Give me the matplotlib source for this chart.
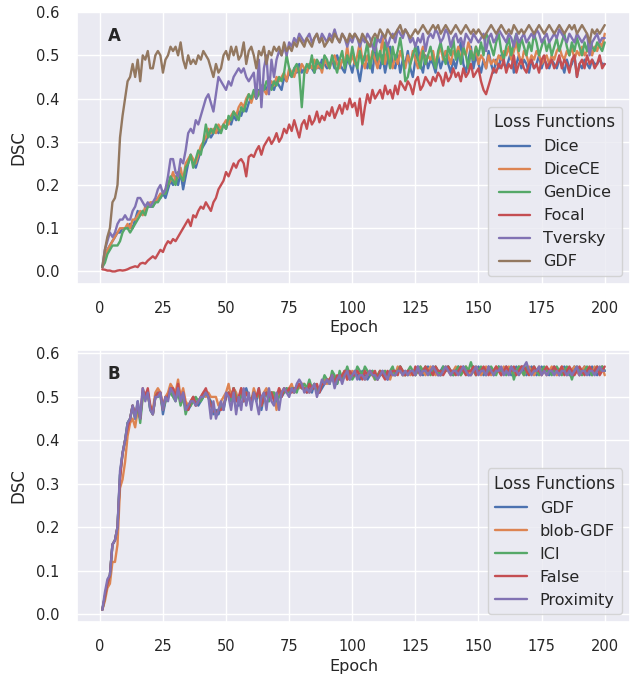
import numpy as np
import matplotlib
matplotlib.use("Agg")
import matplotlib.pyplot as plt
import seaborn as sns

# Validation DSC per epoch
EPOCHS = np.arange(1, 201)

# Panel A: loss functions
DICE = [
    0.01, 0.03, 0.05, 0.06, 0.07, 0.08, 0.09, 0.09, 0.10, 0.10,
    0.10, 0.11, 0.10, 0.12, 0.14, 0.13, 0.14, 0.14, 0.15, 0.15,
    0.15, 0.16, 0.17, 0.17, 0.18, 0.17, 0.19, 0.21, 0.20, 0.22,
    0.20, 0.23, 0.19, 0.22, 0.25, 0.27, 0.25, 0.24, 0.26, 0.28,
    0.29, 0.30, 0.32, 0.31, 0.32, 0.33, 0.32, 0.33, 0.34, 0.33,
    0.35, 0.34, 0.36, 0.35, 0.37, 0.36, 0.38, 0.37, 0.39, 0.40,
    0.41, 0.40, 0.42, 0.41, 0.43, 0.42, 0.44, 0.43, 0.42, 0.44,
    0.43, 0.42, 0.45, 0.44, 0.46, 0.45, 0.47, 0.46, 0.48, 0.46,
    0.47, 0.46, 0.48, 0.47, 0.46, 0.48, 0.47, 0.49, 0.48, 0.47,
    0.48, 0.49, 0.47, 0.50, 0.48, 0.47, 0.46, 0.49, 0.48, 0.46,
    0.49, 0.47, 0.44, 0.48, 0.50, 0.47, 0.49, 0.46, 0.51, 0.48,
    0.47, 0.50, 0.46, 0.49, 0.52, 0.48, 0.47, 0.50, 0.46, 0.49,
    0.48, 0.51, 0.47, 0.45, 0.49, 0.52, 0.48, 0.46, 0.50, 0.47,
    0.49, 0.48, 0.46, 0.50, 0.47, 0.49, 0.51, 0.48, 0.46, 0.49,
    0.47, 0.50, 0.53, 0.48, 0.46, 0.49, 0.52, 0.47, 0.50, 0.48,
    0.46, 0.49, 0.47, 0.51, 0.48, 0.46, 0.49, 0.47, 0.50, 0.48,
    0.47, 0.49, 0.51, 0.46, 0.48, 0.50, 0.47, 0.49, 0.48, 0.46,
    0.49, 0.47, 0.48, 0.50, 0.47, 0.49, 0.48, 0.47, 0.49, 0.48,
    0.47, 0.49, 0.48, 0.46, 0.49, 0.47, 0.48, 0.50, 0.45, 0.48,
    0.47, 0.49, 0.48, 0.47, 0.49, 0.48, 0.48, 0.49, 0.48, 0.48,
]
DICECE = [
    0.01, 0.03, 0.05, 0.06, 0.07, 0.08, 0.09, 0.10, 0.10, 0.10,
    0.11, 0.10, 0.12, 0.12, 0.13, 0.14, 0.13, 0.15, 0.15, 0.16,
    0.16, 0.16, 0.17, 0.18, 0.18, 0.19, 0.20, 0.21, 0.23, 0.21,
    0.22, 0.24, 0.21, 0.25, 0.26, 0.27, 0.26, 0.25, 0.27, 0.29,
    0.30, 0.31, 0.33, 0.32, 0.33, 0.32, 0.34, 0.33, 0.34, 0.35,
    0.34, 0.36, 0.37, 0.36, 0.38, 0.39, 0.38, 0.40, 0.41, 0.39,
    0.41, 0.42, 0.41, 0.43, 0.42, 0.41, 0.43, 0.44, 0.43, 0.45,
    0.44, 0.45, 0.46, 0.44, 0.47, 0.46, 0.45, 0.47, 0.46, 0.48,
    0.47, 0.46, 0.48, 0.47, 0.49, 0.47, 0.48, 0.46, 0.49, 0.48,
    0.47, 0.49, 0.50, 0.48, 0.47, 0.49, 0.48, 0.52, 0.48, 0.50,
    0.48, 0.50, 0.53, 0.49, 0.47, 0.50, 0.48, 0.51, 0.49, 0.47,
    0.50, 0.54, 0.48, 0.52, 0.49, 0.47, 0.50, 0.48, 0.51, 0.49,
    0.47, 0.50, 0.48, 0.51, 0.49, 0.47, 0.50, 0.52, 0.48, 0.50,
    0.49, 0.51, 0.48, 0.50, 0.52, 0.49, 0.51, 0.50, 0.48, 0.51,
    0.50, 0.52, 0.49, 0.51, 0.50, 0.53, 0.51, 0.49, 0.52, 0.48,
    0.50, 0.49, 0.47, 0.50, 0.48, 0.49, 0.48, 0.50, 0.49, 0.51,
    0.50, 0.52, 0.49, 0.51, 0.53, 0.50, 0.48, 0.51, 0.50, 0.48,
    0.50, 0.49, 0.51, 0.50, 0.48, 0.49, 0.50, 0.48, 0.50, 0.49,
    0.51, 0.52, 0.50, 0.49, 0.51, 0.50, 0.52, 0.49, 0.51, 0.50,
    0.52, 0.50, 0.51, 0.53, 0.50, 0.52, 0.51, 0.53, 0.52, 0.55,
]
GENDICE = [
    0.01, 0.02, 0.04, 0.05, 0.06, 0.06, 0.06, 0.07, 0.09, 0.10,
    0.10, 0.09, 0.10, 0.11, 0.12, 0.13, 0.14, 0.13, 0.15, 0.15,
    0.15, 0.16, 0.16, 0.17, 0.18, 0.18, 0.20, 0.22, 0.21, 0.20,
    0.23, 0.22, 0.21, 0.24, 0.25, 0.27, 0.24, 0.26, 0.28, 0.27,
    0.30, 0.34, 0.31, 0.33, 0.32, 0.34, 0.33, 0.32, 0.34, 0.33,
    0.36, 0.35, 0.37, 0.36, 0.35, 0.38, 0.37, 0.39, 0.41, 0.40,
    0.42, 0.40, 0.41, 0.43, 0.42, 0.44, 0.43, 0.42, 0.44, 0.43,
    0.45, 0.44, 0.46, 0.50, 0.47, 0.45, 0.47, 0.48, 0.46, 0.38,
    0.46, 0.48, 0.47, 0.50, 0.46, 0.49, 0.48, 0.47, 0.50, 0.49,
    0.47, 0.50, 0.48, 0.46, 0.49, 0.51, 0.47, 0.50, 0.48, 0.52,
    0.49, 0.47, 0.51, 0.48, 0.50, 0.53, 0.47, 0.50, 0.54, 0.49,
    0.51, 0.48, 0.53, 0.50, 0.47, 0.52, 0.49, 0.51, 0.54, 0.50,
    0.44, 0.45, 0.48, 0.50, 0.52, 0.49, 0.47, 0.51, 0.48, 0.50,
    0.52, 0.49, 0.47, 0.51, 0.53, 0.50, 0.48, 0.52, 0.50, 0.54,
    0.49, 0.51, 0.48, 0.52, 0.50, 0.47, 0.51, 0.49, 0.52, 0.50,
    0.53, 0.50, 0.55, 0.54, 0.52, 0.50, 0.53, 0.55, 0.51, 0.49,
    0.52, 0.54, 0.50, 0.53, 0.55, 0.51, 0.54, 0.52, 0.50, 0.53,
    0.51, 0.55, 0.53, 0.50, 0.52, 0.54, 0.51, 0.53, 0.50, 0.52,
    0.54, 0.51, 0.53, 0.55, 0.52, 0.50, 0.53, 0.51, 0.54, 0.52,
    0.50, 0.53, 0.51, 0.54, 0.52, 0.51, 0.53, 0.52, 0.51, 0.53,
]
FOCAL = [
    0.005, 0.004, 0.002, 0.002, 0.000, 0.000, 0.002, 0.003, 0.002, 0.003,
    0.005, 0.008, 0.010, 0.012, 0.010, 0.018, 0.020, 0.018, 0.025, 0.030,
    0.035, 0.030, 0.040, 0.050, 0.045, 0.060, 0.070, 0.065, 0.075, 0.070,
    0.080, 0.090, 0.100, 0.110, 0.120, 0.105, 0.130, 0.125, 0.140, 0.150,
    0.145, 0.160, 0.150, 0.140, 0.160, 0.170, 0.190, 0.200, 0.210, 0.230,
    0.220, 0.235, 0.250, 0.240, 0.255, 0.260, 0.250, 0.220, 0.265, 0.270,
    0.265, 0.280, 0.290, 0.270, 0.290, 0.300, 0.310, 0.295, 0.305, 0.320,
    0.300, 0.310, 0.330, 0.320, 0.340, 0.325, 0.350, 0.330, 0.310, 0.340,
    0.350, 0.330, 0.360, 0.340, 0.350, 0.370, 0.345, 0.360, 0.350, 0.370,
    0.360, 0.380, 0.355, 0.370, 0.385, 0.365, 0.390, 0.375, 0.400, 0.380,
    0.390, 0.360, 0.400, 0.340, 0.380, 0.410, 0.390, 0.420, 0.400, 0.410,
    0.420, 0.400, 0.430, 0.410, 0.420, 0.400, 0.430, 0.410, 0.440, 0.430,
    0.420, 0.440, 0.430, 0.410, 0.440, 0.450, 0.420, 0.430, 0.450, 0.440,
    0.430, 0.450, 0.440, 0.460, 0.450, 0.430, 0.460, 0.440, 0.450, 0.470,
    0.450, 0.460, 0.440, 0.470, 0.450, 0.460, 0.480, 0.450, 0.460, 0.470,
    0.440, 0.420, 0.410, 0.430, 0.450, 0.470, 0.460, 0.480, 0.470, 0.490,
    0.460, 0.480, 0.470, 0.500, 0.460, 0.480, 0.490, 0.470, 0.460, 0.480,
    0.490, 0.470, 0.480, 0.460, 0.490, 0.500, 0.470, 0.480, 0.490, 0.470,
    0.480, 0.500, 0.470, 0.490, 0.480, 0.460, 0.490, 0.500, 0.450, 0.480,
    0.490, 0.470, 0.500, 0.480, 0.490, 0.470, 0.480, 0.500, 0.470, 0.480,
]
TVERSKY = [
    0.01, 0.05, 0.07, 0.09, 0.08, 0.09, 0.11, 0.12, 0.12, 0.13,
    0.12, 0.12, 0.14, 0.15, 0.17, 0.17, 0.16, 0.15, 0.16, 0.15,
    0.16, 0.17, 0.19, 0.20, 0.18, 0.19, 0.22, 0.26, 0.26, 0.23,
    0.22, 0.26, 0.25, 0.28, 0.32, 0.33, 0.32, 0.35, 0.34, 0.36,
    0.38, 0.40, 0.41, 0.39, 0.37, 0.41, 0.45, 0.44, 0.43, 0.42,
    0.44, 0.43, 0.45, 0.46, 0.47, 0.46, 0.47, 0.45, 0.44, 0.45,
    0.46, 0.40, 0.49, 0.38, 0.47, 0.50, 0.41, 0.49, 0.45, 0.49,
    0.51, 0.50, 0.52, 0.50, 0.53, 0.52, 0.54, 0.53, 0.55, 0.54,
    0.53, 0.54, 0.55, 0.53, 0.54, 0.55, 0.53, 0.55, 0.54, 0.53,
    0.55, 0.54, 0.56, 0.54, 0.53, 0.55, 0.54, 0.52, 0.54, 0.53,
    0.55, 0.54, 0.52, 0.54, 0.53, 0.55, 0.54, 0.52, 0.51, 0.54,
    0.53, 0.55, 0.54, 0.52, 0.54, 0.55, 0.53, 0.56, 0.55, 0.54,
    0.56, 0.55, 0.53, 0.54, 0.52, 0.54, 0.53, 0.55, 0.51, 0.54,
    0.55, 0.54, 0.56, 0.55, 0.53, 0.54, 0.56, 0.55, 0.52, 0.54,
    0.55, 0.53, 0.54, 0.52, 0.55, 0.54, 0.53, 0.55, 0.54, 0.53,
    0.54, 0.55, 0.51, 0.54, 0.55, 0.53, 0.54, 0.56, 0.55, 0.54,
    0.53, 0.55, 0.54, 0.52, 0.55, 0.53, 0.54, 0.55, 0.53, 0.54,
    0.55, 0.54, 0.56, 0.55, 0.53, 0.54, 0.55, 0.53, 0.54, 0.55,
    0.54, 0.56, 0.55, 0.54, 0.53, 0.55, 0.54, 0.53, 0.55, 0.54,
    0.53, 0.54, 0.55, 0.50, 0.53, 0.54, 0.55, 0.53, 0.54, 0.54,
]
GDF_A = [
    0.01, 0.05, 0.08, 0.10, 0.16, 0.17, 0.20, 0.31, 0.36, 0.40,
    0.44, 0.45, 0.48, 0.45, 0.49, 0.44, 0.50, 0.49, 0.51, 0.47,
    0.47, 0.50, 0.51, 0.50, 0.46, 0.49, 0.50, 0.52, 0.51, 0.52,
    0.50, 0.53, 0.49, 0.47, 0.50, 0.48, 0.49, 0.48, 0.50, 0.49,
    0.51, 0.50, 0.49, 0.47, 0.45, 0.48, 0.46, 0.47, 0.50, 0.51,
    0.49, 0.52, 0.50, 0.52, 0.49, 0.50, 0.53, 0.48, 0.51, 0.52,
    0.50, 0.47, 0.51, 0.50, 0.52, 0.48, 0.51, 0.50, 0.52, 0.51,
    0.52, 0.50, 0.53, 0.51, 0.52, 0.51, 0.53, 0.52, 0.54, 0.53,
    0.52, 0.54, 0.53, 0.52, 0.54, 0.55, 0.53, 0.54, 0.52, 0.53,
    0.54, 0.53, 0.55, 0.54, 0.53, 0.55, 0.54, 0.53, 0.55, 0.54,
    0.55, 0.54, 0.53, 0.55, 0.54, 0.53, 0.52, 0.54, 0.55, 0.54,
    0.56, 0.55, 0.54, 0.56, 0.55, 0.54, 0.55, 0.56, 0.57, 0.55,
    0.56, 0.55, 0.54, 0.55, 0.56, 0.55, 0.56, 0.57, 0.56, 0.55,
    0.56, 0.57, 0.56, 0.57, 0.55, 0.56, 0.57, 0.56, 0.55, 0.56,
    0.57, 0.56, 0.55, 0.56, 0.57, 0.56, 0.55, 0.56, 0.55, 0.56,
    0.55, 0.54, 0.55, 0.56, 0.57, 0.56, 0.55, 0.56, 0.57, 0.56,
    0.55, 0.56, 0.55, 0.57, 0.56, 0.55, 0.56, 0.55, 0.56, 0.57,
    0.56, 0.55, 0.56, 0.57, 0.56, 0.55, 0.56, 0.57, 0.56, 0.55,
    0.56, 0.57, 0.56, 0.55, 0.56, 0.57, 0.56, 0.57, 0.55, 0.56,
    0.57, 0.56, 0.55, 0.53, 0.56, 0.55, 0.56, 0.55, 0.56, 0.57,
]

# Panel B: GDF variants
GDF_B = [
    0.01, 0.04, 0.07, 0.09, 0.16, 0.17, 0.20, 0.32, 0.37, 0.40,
    0.44, 0.45, 0.48, 0.45, 0.49, 0.45, 0.51, 0.50, 0.51, 0.47,
    0.46, 0.50, 0.50, 0.51, 0.46, 0.49, 0.50, 0.52, 0.51, 0.50,
    0.52, 0.49, 0.51, 0.48, 0.47, 0.48, 0.50, 0.49, 0.48, 0.49,
    0.50, 0.51, 0.50, 0.49, 0.46, 0.47, 0.46, 0.48, 0.47, 0.50,
    0.51, 0.49, 0.52, 0.50, 0.48, 0.51, 0.49, 0.52, 0.50, 0.48,
    0.51, 0.49, 0.52, 0.47, 0.50, 0.51, 0.49, 0.51, 0.50, 0.48,
    0.51, 0.50, 0.51, 0.52, 0.51, 0.52, 0.51, 0.52, 0.53, 0.52,
    0.52, 0.51, 0.52, 0.51, 0.53, 0.52, 0.51, 0.52, 0.53, 0.54,
    0.53, 0.55, 0.54, 0.53, 0.55, 0.54, 0.56, 0.55, 0.54, 0.55,
    0.56, 0.55, 0.54, 0.56, 0.55, 0.54, 0.55, 0.56, 0.55, 0.54,
    0.55, 0.56, 0.55, 0.54, 0.55, 0.56, 0.55, 0.56, 0.57, 0.55,
    0.56, 0.55, 0.56, 0.55, 0.56, 0.57, 0.56, 0.55, 0.56, 0.57,
    0.56, 0.57, 0.56, 0.55, 0.56, 0.57, 0.56, 0.57, 0.56, 0.55,
    0.56, 0.57, 0.56, 0.57, 0.56, 0.55, 0.56, 0.57, 0.56, 0.57,
    0.56, 0.55, 0.56, 0.57, 0.56, 0.55, 0.56, 0.57, 0.56, 0.56,
    0.57, 0.56, 0.55, 0.56, 0.57, 0.56, 0.57, 0.56, 0.55, 0.56,
    0.57, 0.56, 0.55, 0.56, 0.57, 0.56, 0.56, 0.55, 0.56, 0.57,
    0.56, 0.55, 0.56, 0.57, 0.56, 0.55, 0.56, 0.57, 0.56, 0.55,
    0.56, 0.57, 0.56, 0.55, 0.57, 0.56, 0.55, 0.56, 0.57, 0.56,
]
BLOB_GDF = [
    0.01, 0.03, 0.06, 0.07, 0.12, 0.12, 0.16, 0.29, 0.31, 0.35,
    0.41, 0.44, 0.45, 0.43, 0.47, 0.46, 0.50, 0.51, 0.50, 0.48,
    0.47, 0.51, 0.52, 0.51, 0.48, 0.50, 0.51, 0.53, 0.52, 0.51,
    0.54, 0.50, 0.52, 0.49, 0.48, 0.49, 0.50, 0.48, 0.49, 0.50,
    0.51, 0.50, 0.51, 0.50, 0.50, 0.50, 0.48, 0.49, 0.50, 0.51,
    0.53, 0.50, 0.52, 0.51, 0.49, 0.52, 0.50, 0.51, 0.50, 0.49,
    0.52, 0.50, 0.51, 0.48, 0.51, 0.52, 0.50, 0.51, 0.51, 0.47,
    0.52, 0.51, 0.52, 0.51, 0.52, 0.53, 0.51, 0.52, 0.52, 0.53,
    0.53, 0.52, 0.51, 0.52, 0.53, 0.52, 0.52, 0.53, 0.54, 0.53,
    0.54, 0.55, 0.53, 0.54, 0.55, 0.55, 0.56, 0.54, 0.55, 0.56,
    0.55, 0.56, 0.55, 0.55, 0.54, 0.55, 0.56, 0.55, 0.54, 0.55,
    0.56, 0.55, 0.56, 0.55, 0.54, 0.56, 0.55, 0.57, 0.56, 0.55,
    0.55, 0.56, 0.55, 0.56, 0.55, 0.56, 0.57, 0.56, 0.55, 0.56,
    0.57, 0.56, 0.55, 0.56, 0.55, 0.56, 0.57, 0.56, 0.55, 0.56,
    0.57, 0.56, 0.55, 0.56, 0.57, 0.56, 0.55, 0.56, 0.57, 0.56,
    0.55, 0.56, 0.57, 0.56, 0.55, 0.56, 0.57, 0.56, 0.55, 0.57,
    0.56, 0.57, 0.56, 0.55, 0.56, 0.57, 0.56, 0.55, 0.56, 0.57,
    0.56, 0.55, 0.56, 0.57, 0.56, 0.56, 0.55, 0.56, 0.57, 0.56,
    0.55, 0.56, 0.57, 0.56, 0.55, 0.56, 0.56, 0.57, 0.56, 0.55,
    0.56, 0.57, 0.56, 0.56, 0.55, 0.57, 0.56, 0.56, 0.57, 0.55,
]
ICI = [
    0.01, 0.04, 0.07, 0.09, 0.16, 0.17, 0.20, 0.32, 0.37, 0.40,
    0.44, 0.45, 0.48, 0.45, 0.48, 0.44, 0.50, 0.50, 0.51, 0.47,
    0.46, 0.50, 0.51, 0.50, 0.47, 0.49, 0.50, 0.51, 0.50, 0.49,
    0.51, 0.48, 0.50, 0.46, 0.48, 0.48, 0.49, 0.50, 0.49, 0.49,
    0.50, 0.51, 0.50, 0.48, 0.47, 0.46, 0.47, 0.48, 0.48, 0.50,
    0.51, 0.49, 0.52, 0.50, 0.49, 0.51, 0.49, 0.51, 0.50, 0.49,
    0.51, 0.50, 0.51, 0.48, 0.50, 0.51, 0.49, 0.51, 0.51, 0.49,
    0.50, 0.51, 0.51, 0.52, 0.51, 0.52, 0.52, 0.51, 0.53, 0.52,
    0.53, 0.52, 0.54, 0.52, 0.53, 0.51, 0.52, 0.53, 0.55, 0.54,
    0.53, 0.56, 0.55, 0.53, 0.56, 0.54, 0.55, 0.57, 0.55, 0.54,
    0.55, 0.57, 0.56, 0.55, 0.57, 0.56, 0.55, 0.56, 0.54, 0.55,
    0.56, 0.55, 0.56, 0.55, 0.56, 0.57, 0.55, 0.56, 0.57, 0.56,
    0.55, 0.56, 0.57, 0.56, 0.55, 0.56, 0.57, 0.56, 0.57, 0.56,
    0.55, 0.56, 0.57, 0.56, 0.55, 0.57, 0.56, 0.57, 0.56, 0.55,
    0.56, 0.57, 0.55, 0.56, 0.57, 0.56, 0.58, 0.56, 0.55, 0.56,
    0.57, 0.56, 0.55, 0.56, 0.57, 0.56, 0.55, 0.57, 0.56, 0.56,
    0.55, 0.56, 0.57, 0.54, 0.56, 0.57, 0.56, 0.55, 0.57, 0.56,
    0.56, 0.57, 0.56, 0.55, 0.56, 0.57, 0.56, 0.56, 0.55, 0.56,
    0.57, 0.56, 0.55, 0.56, 0.57, 0.56, 0.54, 0.56, 0.57, 0.56,
    0.55, 0.56, 0.57, 0.56, 0.55, 0.56, 0.57, 0.56, 0.57, 0.56,
]
FALSE = [
    0.01, 0.04, 0.07, 0.09, 0.16, 0.17, 0.20, 0.31, 0.37, 0.40,
    0.43, 0.45, 0.48, 0.46, 0.48, 0.45, 0.52, 0.50, 0.52, 0.48,
    0.46, 0.50, 0.51, 0.51, 0.47, 0.50, 0.50, 0.52, 0.52, 0.50,
    0.53, 0.49, 0.51, 0.48, 0.47, 0.49, 0.50, 0.48, 0.49, 0.50,
    0.51, 0.52, 0.50, 0.48, 0.47, 0.46, 0.47, 0.47, 0.48, 0.50,
    0.51, 0.50, 0.52, 0.49, 0.50, 0.52, 0.49, 0.51, 0.50, 0.49,
    0.51, 0.50, 0.52, 0.48, 0.50, 0.51, 0.50, 0.51, 0.49, 0.50,
    0.52, 0.50, 0.52, 0.51, 0.52, 0.51, 0.52, 0.52, 0.53, 0.52,
    0.52, 0.51, 0.53, 0.52, 0.52, 0.53, 0.51, 0.53, 0.53, 0.54,
    0.54, 0.55, 0.53, 0.55, 0.54, 0.55, 0.56, 0.54, 0.56, 0.55,
    0.55, 0.56, 0.55, 0.54, 0.56, 0.55, 0.56, 0.55, 0.56, 0.54,
    0.56, 0.55, 0.54, 0.56, 0.55, 0.56, 0.56, 0.55, 0.57, 0.56,
    0.55, 0.56, 0.56, 0.55, 0.57, 0.56, 0.55, 0.56, 0.57, 0.56,
    0.56, 0.55, 0.57, 0.56, 0.56, 0.55, 0.56, 0.57, 0.56, 0.56,
    0.55, 0.56, 0.57, 0.56, 0.55, 0.56, 0.56, 0.57, 0.55, 0.56,
    0.56, 0.57, 0.56, 0.55, 0.56, 0.56, 0.57, 0.56, 0.55, 0.56,
    0.57, 0.56, 0.56, 0.57, 0.55, 0.56, 0.57, 0.57, 0.56, 0.55,
    0.56, 0.57, 0.56, 0.56, 0.55, 0.56, 0.57, 0.56, 0.56, 0.57,
    0.56, 0.56, 0.57, 0.55, 0.56, 0.57, 0.56, 0.55, 0.56, 0.57,
    0.56, 0.55, 0.56, 0.57, 0.56, 0.56, 0.57, 0.55, 0.56, 0.57,
]
PROXIMITY = [
    0.01, 0.05, 0.08, 0.09, 0.16, 0.17, 0.20, 0.33, 0.37, 0.40,
    0.44, 0.45, 0.48, 0.45, 0.49, 0.45, 0.52, 0.49, 0.51, 0.47,
    0.46, 0.50, 0.50, 0.51, 0.47, 0.50, 0.49, 0.52, 0.51, 0.49,
    0.52, 0.49, 0.51, 0.47, 0.48, 0.49, 0.49, 0.48, 0.49, 0.50,
    0.50, 0.51, 0.50, 0.45, 0.49, 0.45, 0.47, 0.49, 0.47, 0.51,
    0.50, 0.47, 0.51, 0.46, 0.50, 0.47, 0.52, 0.48, 0.51, 0.47,
    0.51, 0.49, 0.46, 0.50, 0.51, 0.47, 0.52, 0.49, 0.48, 0.51,
    0.47, 0.51, 0.52, 0.51, 0.50, 0.52, 0.51, 0.53, 0.54, 0.53,
    0.51, 0.52, 0.51, 0.52, 0.53, 0.50, 0.52, 0.54, 0.53, 0.54,
    0.53, 0.55, 0.52, 0.54, 0.55, 0.53, 0.55, 0.56, 0.54, 0.55,
    0.56, 0.54, 0.55, 0.55, 0.54, 0.55, 0.56, 0.55, 0.55, 0.54,
    0.55, 0.56, 0.55, 0.54, 0.56, 0.55, 0.55, 0.56, 0.56, 0.55,
    0.56, 0.55, 0.56, 0.56, 0.55, 0.57, 0.55, 0.56, 0.56, 0.55,
    0.56, 0.57, 0.56, 0.55, 0.55, 0.56, 0.57, 0.56, 0.55, 0.56,
    0.56, 0.55, 0.56, 0.57, 0.56, 0.55, 0.55, 0.56, 0.57, 0.55,
    0.56, 0.56, 0.55, 0.57, 0.56, 0.55, 0.56, 0.56, 0.57, 0.55,
    0.56, 0.55, 0.57, 0.56, 0.56, 0.55, 0.56, 0.57, 0.58, 0.56,
    0.55, 0.56, 0.56, 0.57, 0.55, 0.56, 0.55, 0.56, 0.56, 0.55,
    0.56, 0.55, 0.56, 0.56, 0.55, 0.56, 0.55, 0.56, 0.57, 0.55,
    0.56, 0.56, 0.55, 0.56, 0.56, 0.55, 0.56, 0.57, 0.56, 0.56,
]

LABELS_A = ["Dice", "DiceCE", "GenDice", "Focal", "Tversky", "GDF"]
SERIES_A = [DICE, DICECE, GENDICE, FOCAL, TVERSKY, GDF_A]
LABELS_B = ["GDF", "blob-GDF", "ICI", "False", "Proximity"]
SERIES_B = [GDF_B, BLOB_GDF, ICI, FALSE, PROXIMITY]

sns.set_theme(style="darkgrid")
plt.rcParams["font.family"] = ["DejaVu Sans"]
colors = sns.color_palette("deep")

fig = plt.figure(figsize=(6.33, 6.74), dpi=100)
ax_a = fig.add_axes([0.122, 0.579, 0.873, 0.403])
ax_b = fig.add_axes([0.122, 0.077, 0.873, 0.404])

for ax, labels, series, letter in [
    (ax_a, LABELS_A, SERIES_A, "A"),
    (ax_b, LABELS_B, SERIES_B, "B"),
]:
    for i, (lab, vals) in enumerate(zip(labels, series)):
        ax.plot(EPOCHS, vals, color=colors[i], linewidth=1.7, label=lab)
    ax.set_xlabel("Epoch", fontsize=11.5, labelpad=3)
    ax.set_ylabel("DSC", fontsize=12, labelpad=6)
    ax.set_xticks(np.arange(0, 201, 25))
    ax.set_yticks(np.arange(0, 0.61, 0.1))
    ax.set_yticklabels([f"{v:.1f}" for v in np.arange(0, 0.61, 0.1)])
    ax.tick_params(axis="x", labelsize=10.5, pad=6.5)
    ax.tick_params(axis="y", labelsize=10.5, pad=7)
    ax.text(0.055, 0.945, letter, transform=ax.transAxes, fontsize=12,
            fontweight="bold", ha="left", va="top")
    ax.legend(title="Loss Functions", loc="lower right", fontsize=11.5,
              title_fontsize=12)

fig.savefig("out.png", dpi=100)
